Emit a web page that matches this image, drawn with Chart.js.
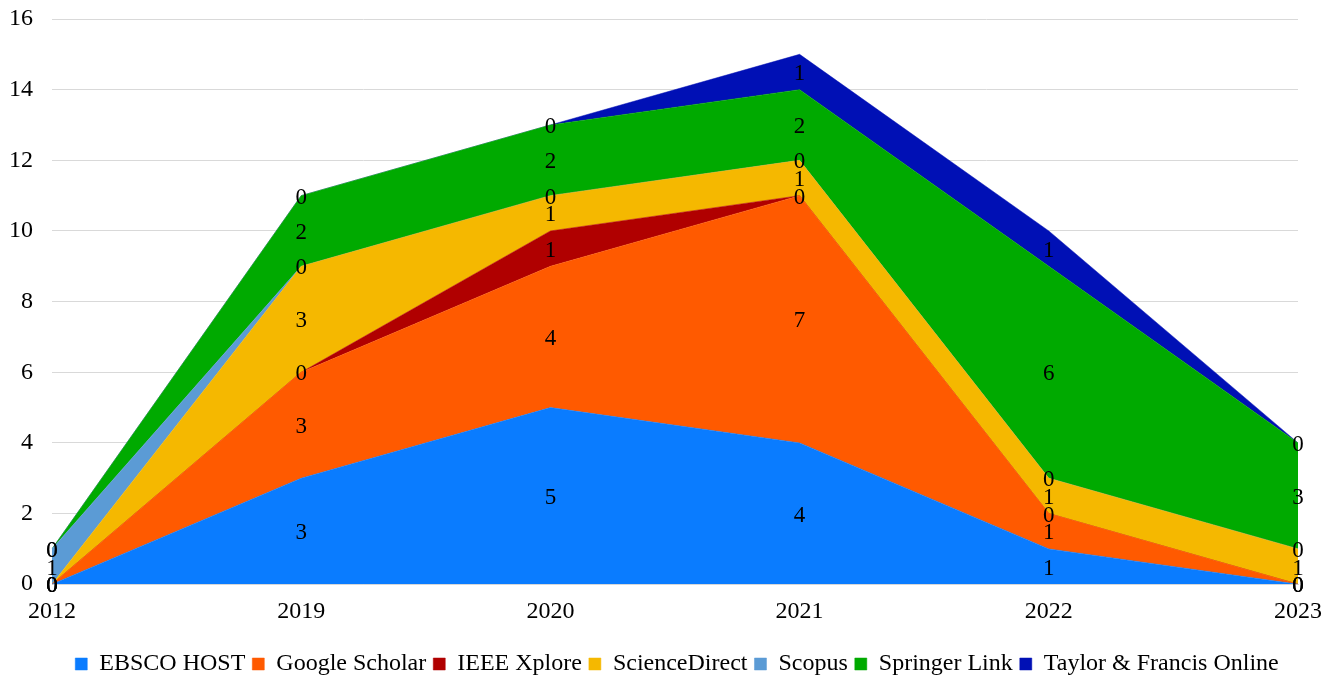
<!DOCTYPE html>
<html>
<head>
<meta charset="utf-8">
<script src="https://cdn.jsdelivr.net/npm/chart.js@4"></script>
<style>
  html, body { margin: 0; padding: 0; background: #fff; overflow: hidden; }
  #wrap { width: 1336px; height: 677px; overflow: hidden; }
</style>
</head>
<body>
<div id="wrap"><canvas id="areachart" width="1354" height="677"></canvas></div>
<script>
var years = ["2012", "2019", "2020", "2021", "2022", "2023"];

var ebsco = [0, 3, 5, 4, 1, 0];
var google = [0, 3, 4, 7, 1, 0];
var ieee = [0, 0, 1, 0, 0, 0];
var scienceDirect = [0, 3, 1, 1, 1, 1];
var scopus = [1, 0, 0, 0, 0, 0];
var springer = [0, 2, 2, 2, 6, 3];
var taylor = [0, 0, 0, 1, 1, 0];

var names = ["EBSCO HOST", "Google Scholar", "IEEE Xplore", "ScienceDirect", "Scopus", "Springer Link", "Taylor & Francis Online"];
var series = [ebsco, google, ieee, scienceDirect, scopus, springer, taylor];
var colors = ["#0a7cff", "#ff5a00", "#b00000", "#f5b800", "#5b9bd5", "#00aa00", "#0010b5"];

var serif = "'Liberation Serif', 'Times New Roman', serif";

var datasets = series.map(function (vals, i) {
    return {
        label: names[i],
        data: vals,
        backgroundColor: colors[i],
        borderColor: colors[i],
        borderWidth: 0.5,
        pointRadius: 0,
        pointHoverRadius: 0,
        tension: 0,
        fill: i === 0 ? "origin" : "-1"
    };
});

// value labels in the middle of each stacked band
var bandLabels = {
    id: "bandLabels",
    afterDatasetsDraw: function (chart) {
        var ctx = chart.ctx;
        var yScale = chart.scales.y;
        var base = years.map(function () { return 0; });
        ctx.save();
        ctx.font = "23px " + serif;
        ctx.fillStyle = "#000";
        ctx.textAlign = "center";
        ctx.textBaseline = "middle";
        chart.data.datasets.forEach(function (ds, i) {
            var meta = chart.getDatasetMeta(i);
            ds.data.forEach(function (v, j) {
                var x = meta.data[j].x;
                var y = yScale.getPixelForValue(base[j] + v / 2) + 2;
                ctx.fillText(String(v), x, y);
                base[j] += v;
            });
        });
        ctx.restore();
    }
};

var config = {
    type: "line",
    data: { labels: years, datasets: datasets },
    options: {
        responsive: false,
        animation: false,
        layout: { padding: { top: 19, right: 0, left: 0, bottom: -9 } },
        plugins: {
            legend: {
                position: "bottom",
                labels: {
                    boxWidth: 12,
                    boxHeight: 12,
                    padding: 7,
                    color: "#000",
                    font: { family: serif, size: 24 }
                }
            },
            tooltip: { enabled: false }
        },
        scales: {
            x: {
                offset: false,
                afterFit: function (scale) {
                    scale.paddingRight = 56;
                    scale.height += 14;
                },
                grid: { display: false },
                border: { color: "#d9d9d9", width: 1 },
                ticks: { color: "#000", maxRotation: 0, font: { family: serif, size: 24 }, padding: 5 }
            },
            y: {
                stacked: true,
                min: 0,
                max: 16,
                afterFit: function (scale) {
                    scale.width = 52;
                    scale.paddingTop = 0;
                    scale.paddingBottom = 0;
                },
                grid: { color: "#d9d9d9", drawTicks: false },
                border: { display: false },
                ticks: { stepSize: 2, color: "#000", font: { family: serif, size: 24 }, padding: 19 }
            }
        }
    },
    plugins: [bandLabels]
};

var areaChart = new Chart(document.getElementById("areachart"), config);
</script>
</body>
</html>
